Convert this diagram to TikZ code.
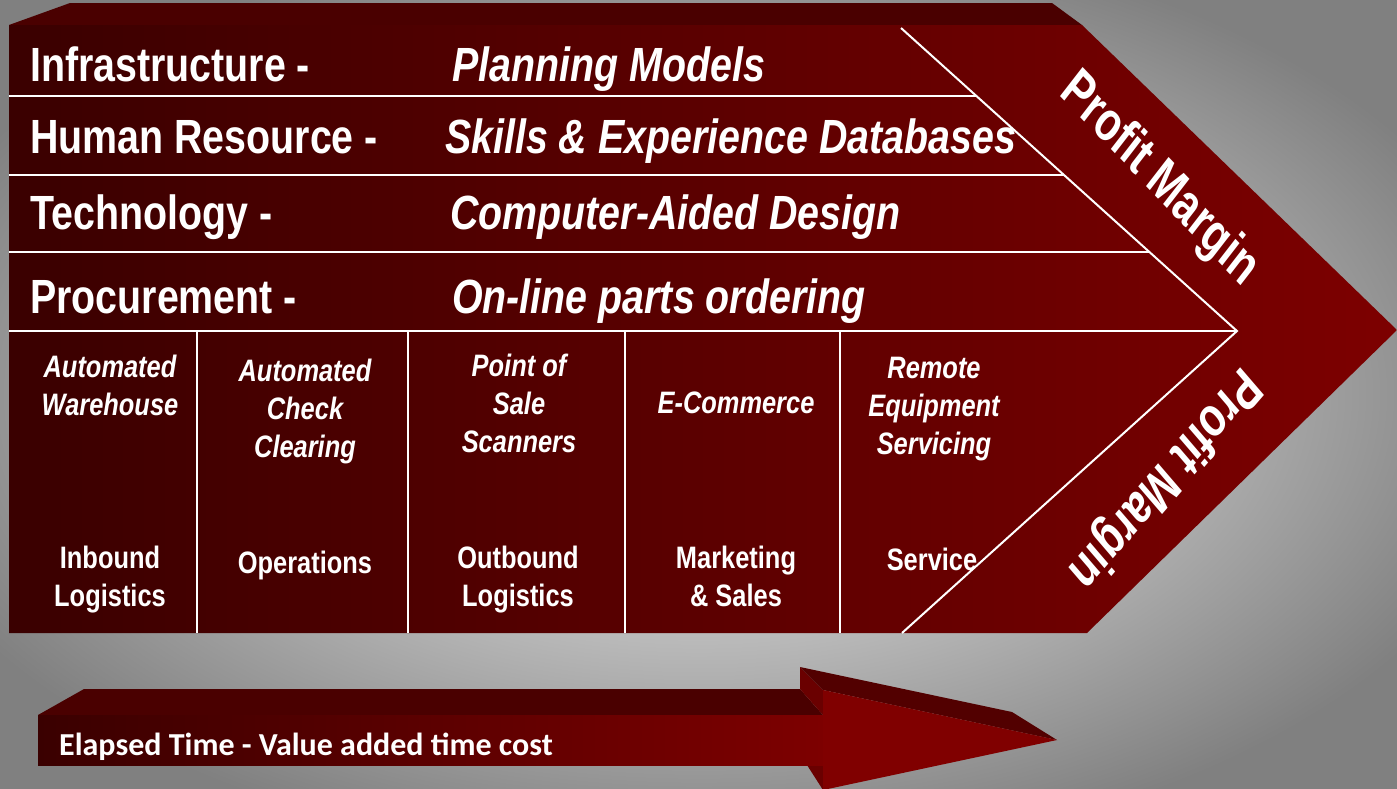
\documentclass[tikz,border=0pt]{standalone}
\usepackage{fontspec}
\usepackage{tikz}
\newfontfamily\narrowfont[FakeStretch=0.82]{Liberation Sans}
\newfontfamily\calfont{Carlito}
\definecolor{bglight}{RGB}{200,200,200}
\definecolor{bgdark}{RGB}{128,128,128}
\definecolor{winedark}{RGB}{58,0,0}
\definecolor{winelight}{RGB}{125,0,0}
\definecolor{winetop}{RGB}{74,0,0}
\definecolor{winehtop}{RGB}{82,0,0}
\definecolor{winewall}{RGB}{106,0,0}
\definecolor{winehead}{RGB}{128,0,0}
\pgfdeclareradialshading{backdrop}{\pgfpoint{0bp}{0bp}}{color(0bp)=(bglight); color(12bp)=(bglight); color(30bp)=(bgdark); color(50bp)=(bgdark)}

\begin{document}
\begin{tikzpicture}[x=1pt, y=-1pt,
	divider/.style={white, line width=2pt},
	row/.style={white, anchor=base west, inner sep=0pt, font={\narrowfont\bfseries\fontsize{48}{58}\selectfont}},
	rowit/.style={row, font={\narrowfont\bfseries\itshape\fontsize{48}{58}\selectfont}},
	cell/.style={white, anchor=north, inner sep=0pt, align=center, font={\narrowfont\bfseries\fontsize{31}{38}\selectfont}},
	cellit/.style={cell, font={\narrowfont\bfseries\itshape\fontsize{31}{38}\selectfont}},
	margin/.style={white, inner sep=0pt, xscale=0.86, font={\narrowfont\bfseries\fontsize{57}{64}\selectfont}}]
				\clip (0,0) rectangle (1397,788);
				\shade[shading=backdrop] (0,0) rectangle (1397,788);
				\fill[winetop] (9,25) -- (70,3) -- (1052,3) -- (1082,25) -- cycle;
				\shade[left color=winedark, right color=winelight] (9,25) -- (1082,25) -- (1397,330) -- (1087,633) -- (9,633) -- cycle;
				\draw[divider] (9,96) -- (976,96);
				\draw[divider] (9,175) -- (1064,175);
				\draw[divider] (9,252) -- (1149,252);
				\draw[divider] (9,331) -- (1237,331);
				\draw[divider] (901,28) -- (1237,331) -- (902,633);
				\foreach \x in {197,408,625,840}
					\draw[divider] (\x,331) -- (\x,633);
				\node[row] (infra) at (30,81) {Infrastructure -};
				\node[rowit] (planning) at (452,81) {Planning Models};
				\node[row] (human) at (30,153) {Human Resource -};
				\node[rowit] (skills) at (445,153) {Skills \& Experience Databases};
				\node[row] (techno) at (30,229) {Technology -};
				\node[rowit] (cad) at (450,229) {Computer-Aided Design};
				\node[row] (procure) at (30,313) {Procurement -};
				\node[rowit] (online) at (452,313) {On-line parts ordering};
				\node[cellit] (warehouse) at (110,355) {Automated\\Warehouse};
				\node[cellit] (check) at (305,359) {Automated\\Check\\Clearing};
				\node[cellit] (pos) at (519,354) {Point of\\Sale\\Scanners};
				\node[cellit] (ecom) at (736,392) {E-Commerce};
				\node[cellit] (remote) at (934,357) {Remote\\Equipment\\Servicing};
				\node[cell] (inbound) at (110,546) {Inbound\\Logistics};
				\node[cell] (ops) at (305,551) {Operations};
				\node[cell] (outbound) at (518,546) {Outbound\\Logistics};
				\node[cell] (sales) at (736,546) {Marketing\\\& Sales};
				\node[cell] (service) at (932,548) {Service};
				\node[margin, rotate=-42] (margintop) at (1159,180) {Profit Margin};
				\node[margin, rotate=-135] (marginbot) at (1164,478) {Profit Margin};
				\fill[winetop] (38,715) -- (84,689) -- (800,689) -- (823,715) -- cycle;
				\fill[winewall] (800,667) -- (823,690) -- (823,715) -- (800,689) -- cycle;
				\fill[winewall] (807,765) -- (823,765) -- (823,790) -- cycle;
				\fill[winehtop] (800,667) -- (1012,712) -- (1057,740) -- (823,690) -- cycle;
				\shade[left color=winedark, right color=winelight] (38,715) rectangle (823,765);
				\fill[winehead] (823,690) -- (1057,740) -- (823,790) -- cycle;
				\node[white, anchor=base west, inner sep=0pt, font={\calfont\bfseries\fontsize{32}{38}\selectfont}] (elapsed) at (59,755) {Elapsed Time - Value added time cost};
\end{tikzpicture}
\end{document}
